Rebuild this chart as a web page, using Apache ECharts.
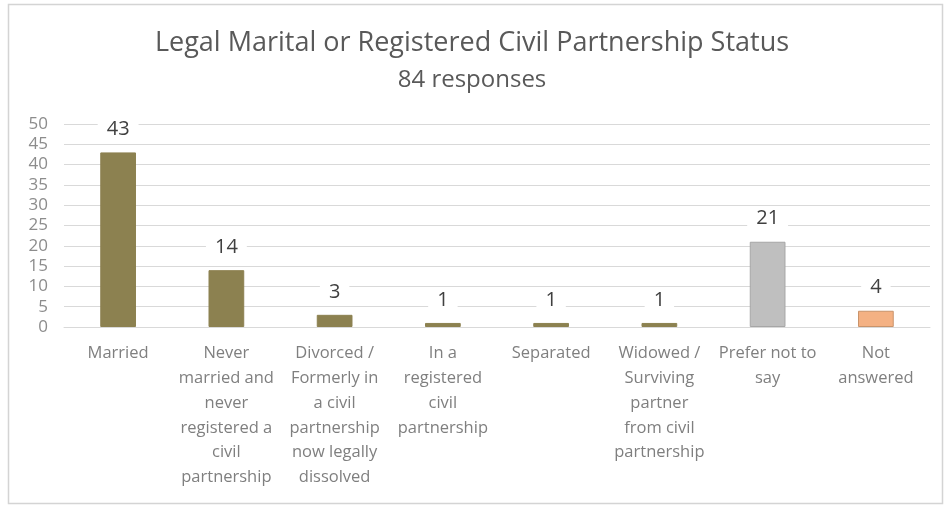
<!DOCTYPE html>
<html>
<head>
<meta charset="utf-8">
<script src="https://cdn.jsdelivr.net/npm/echarts@6/dist/echarts.min.js"></script>
<style>
  html, body { margin: 0; padding: 0; background: #ffffff; }
  #chart { width: 944px; height: 507px; }
</style>
</head>
<body>
<div id="chart"></div>
<script>
// Survey categories (line breaks follow the wrapped axis labels)
const categories = [
  'Married',
  'Never\nmarried and\nnever\nregistered a\ncivil\npartnership',
  'Divorced /\nFormerly in\na civil\npartnership\nnow legally\ndissolved',
  'In a\nregistered\ncivil\npartnership',
  'Separated',
  'Widowed /\nSurviving\npartner\nfrom civil\npartnership',
  'Prefer not to\nsay',
  'Not\nanswered'
];
const counts = [43, 14, 3, 1, 1, 1, 21, 4];
const barColors = ['#8c8150', '#8c8150', '#8c8150', '#8c8150', '#8c8150', '#8c8150', '#bfbfbf', '#f4b183'];
const barBorders = ['#8c8150', '#8c8150', '#8c8150', '#8c8150', '#8c8150', '#8c8150', '#a6a6a6', '#c9936a'];
const yTicks = [0, 5, 10, 15, 20, 25, 30, 35, 40, 45, 50];

const titleText = 'Legal Marital or Registered Civil Partnership Status';
const subtitleText = '84 responses';

const font = '"Open Sans", "Liberation Sans", sans-serif';

const chart = echarts.init(document.getElementById('chart'), null, { renderer: 'canvas' });

chart.setOption({
  animation: false,
  backgroundColor: '#ffffff',
  graphic: [{
    type: 'rect',
    shape: { x: 8.5, y: 4.5, width: 934, height: 499 },
    style: { fill: 'none', stroke: '#d4d4d4', lineWidth: 1.5 },
    silent: true
  }],
  title: {
    text: titleText,
    subtext: subtitleText,
    left: 'center',
    top: 25,
    itemGap: 11,
    textStyle: { fontFamily: font, fontSize: 27, fontWeight: 'normal', color: '#595959' },
    subtextStyle: { fontFamily: font, fontSize: 24, color: '#595959' }
  },
  grid: { left: 64, right: 14, top: 124, bottom: 180, containLabel: false },
  xAxis: {
    type: 'category',
    data: categories,
    axisLine: { show: true, lineStyle: { color: '#d9d9d9', width: 1 } },
    axisTick: { show: false },
    axisLabel: {
      interval: 0,
      margin: 14,
      fontFamily: font,
      fontSize: 16.5,
      lineHeight: 24.8,
      color: '#7f7f7f',
      align: 'center',
      verticalAlign: 'top'
    }
  },
  yAxis: {
    type: 'value',
    min: yTicks[0],
    max: yTicks[yTicks.length - 1],
    interval: 5,
    axisLine: { show: false },
    axisTick: { show: false },
    splitLine: { lineStyle: { color: '#d9d9d9', width: 1 } },
    axisLabel: {
      margin: 16,
      fontFamily: font,
      fontSize: 17,
      color: '#8c8c8c'
    }
  },
  series: [{
    type: 'bar',
    data: counts.map((v, i) => ({
      value: v,
      itemStyle: { color: barColors[i], borderColor: barBorders[i], borderWidth: 1 }
    })),
    barWidth: '33%',
    label: {
      show: true,
      position: 'top',
      distance: 11,
      fontFamily: font,
      fontSize: 20,
      color: '#404040',
      backgroundColor: '#ffffff',
      padding: [2, 9, 2, 9]
    }
  }]
});
</script>
</body>
</html>
